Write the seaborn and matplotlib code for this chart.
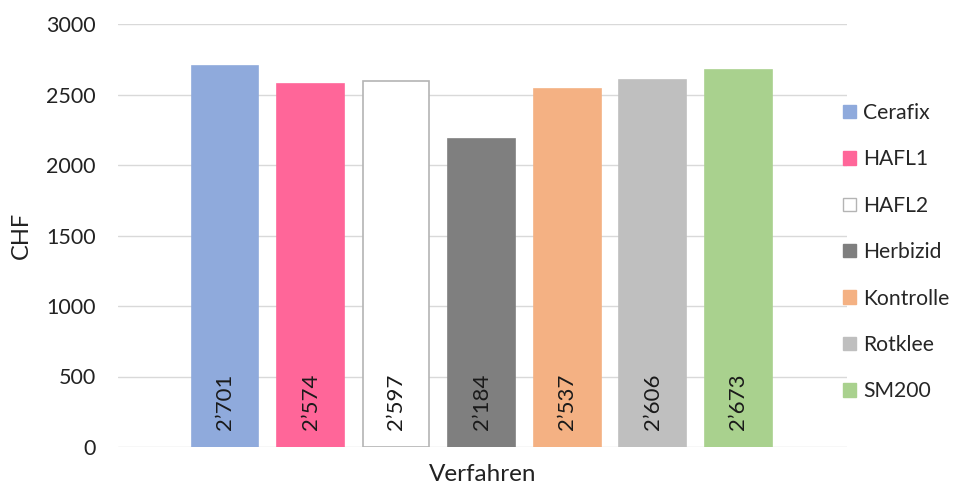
import matplotlib
matplotlib.use("Agg")
import matplotlib.pyplot as plt
from matplotlib.patches import Patch
import seaborn as sns
import pandas as pd

# Data
verfahren = ["Cerafix", "HAFL1", "HAFL2", "Herbizid", "Kontrolle", "Rotklee", "SM200"]
chf = [2701, 2574, 2597, 2184, 2537, 2606, 2673]
farben = ["#8FAADC", "#FF6699", "#FFFFFF", "#7F7F7F", "#F4B183", "#BFBFBF", "#A9D18E"]
kanten = ["#8FAADC", "#FF6699", "#B4B4B4", "#7F7F7F", "#F4B183", "#BFBFBF", "#A9D18E"]
y_ticks = [0, 500, 1000, 1500, 2000, 2500, 3000]

sns.set_theme(style="white")
plt.rcParams["font.family"] = ["Lato", "DejaVu Sans"]

df = pd.DataFrame({"Verfahren": verfahren, "CHF": chf})

fig = plt.figure(figsize=(9.55, 4.83), dpi=100)
ax = fig.add_axes([118 / 955, 1 - 447 / 483, (847 - 118) / 955, (447 - 24) / 483])

sns.barplot(data=df, x="Verfahren", y="CHF", hue="Verfahren",
            palette=dict(zip(verfahren, farben)), dodge=False, legend=False,
            saturation=1, width=0.78, ax=ax, zorder=3)

for patch, kante in zip(ax.patches, kanten):
    patch.set_edgecolor(kante)
    patch.set_linewidth(1.2)

# Value labels at the base of each bar
for i, v in enumerate(chf):
    ax.text(i, 120, f"{v:,}".replace(",", "\u2019"), rotation=90,
            ha="center", va="bottom", fontsize=16, color="#1a1a1a", zorder=4)

ax.set_ylim(0, 3000)
ax.set_xlim(-1.25, 7.27)
ax.set_yticks(y_ticks)
ax.set_yticklabels([str(t) for t in y_ticks], fontsize=15.5, color="#222222")
ax.set_xticks([])
ax.tick_params(axis="y", length=0, pad=16)
ax.yaxis.grid(True, color="#D9D9D9", linewidth=1.0, zorder=0)
for s in ax.spines.values():
    s.set_visible(False)

ax.set_ylabel("CHF", fontsize=17, color="#222222", labelpad=10)
ax.set_xlabel("Verfahren", fontsize=17.5, color="#222222", labelpad=12)

handles = [Patch(facecolor=f, edgecolor=k, linewidth=1.0, label=n)
           for n, f, k in zip(verfahren, farben, kanten)]
fig.legend(handles=handles, loc="upper left", bbox_to_anchor=(843 / 955, 1 - 103 / 483),
           frameon=False, fontsize=15.2, handlelength=0.6, handleheight=0.6,
           handletextpad=0.35, labelspacing=1.25, borderaxespad=0, borderpad=0)

fig.savefig("out.png", dpi=100)
